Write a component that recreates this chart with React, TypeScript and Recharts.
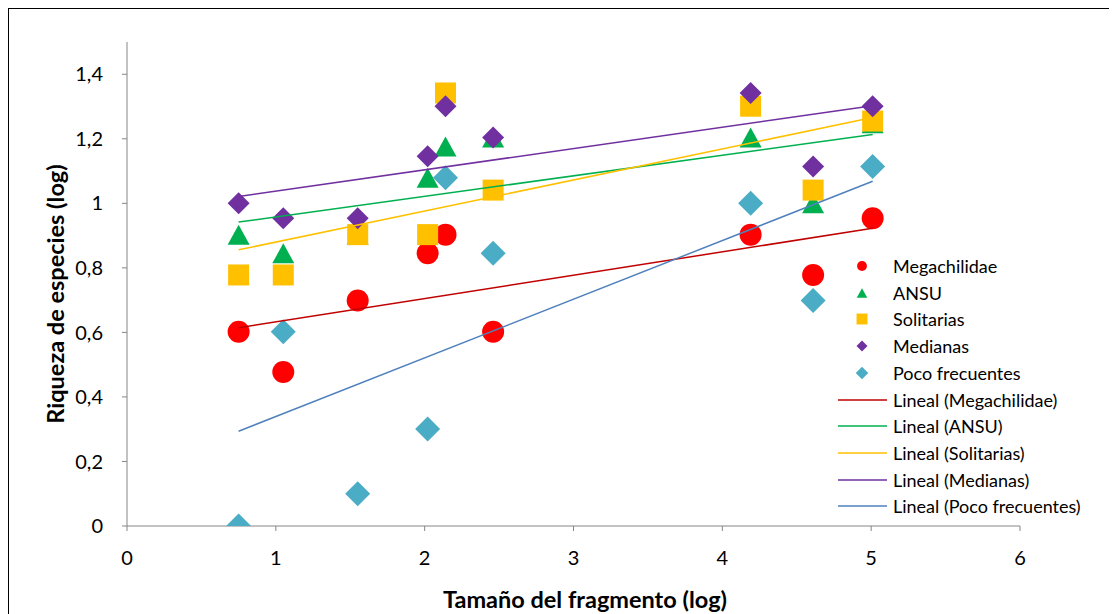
import React from 'react';
import { ScatterChart, Scatter, XAxis, YAxis } from 'recharts';

const xValues = [0.75, 1.05, 1.55, 2.02, 2.14, 2.46, 4.19, 4.61, 5.01];
const megachilidae = [0.602, 0.477, 0.699, 0.845, 0.903, 0.602, 0.903, 0.778, 0.954];
const ansu = [0.903, 0.845, 0.903, 1.079, 1.176, 1.204, 1.204, 1.0, 1.248];
const solitarias = [0.778, 0.778, 0.903, 0.903, 1.342, 1.041, 1.301, 1.041, 1.255];
const medianas = [1.0, 0.954, 0.954, 1.146, 1.301, 1.204, 1.342, 1.114, 1.301];
const pocoFrecuentes = [0.0, 0.602, 0.1, 0.301, 1.079, 0.845, 1.0, 0.699, 1.114];

const xTicks = [0, 1, 2, 3, 4, 5, 6];
const yTicks = [0, 0.2, 0.4, 0.6, 0.8, 1.0, 1.2, 1.4];

const FONT = 'Lato, "Open Sans", sans-serif';

type Series = { name: string; values: number[]; color: string; lineColor: string; marker: string };

const series: Series[] = [
  { name: 'Megachilidae', values: megachilidae, color: '#FF0000', lineColor: '#C00000', marker: 'circle' },
  { name: 'ANSU', values: ansu, color: '#00B050', lineColor: '#00B050', marker: 'triangle' },
  { name: 'Solitarias', values: solitarias, color: '#FFC000', lineColor: '#FFC000', marker: 'square' },
  { name: 'Medianas', values: medianas, color: '#7030A0', lineColor: '#7030A0', marker: 'diamondS' },
  { name: 'Poco frecuentes', values: pocoFrecuentes, color: '#4BACC6', lineColor: '#4F81BD', marker: 'diamondL' },
];

function toPoints(vals: number[]) {
  return xValues.map((x, i) => ({ x, y: vals[i] }));
}

function trend(vals: number[]) {
  const n = xValues.length;
  const mx = xValues.reduce((a, b) => a + b, 0) / n;
  const my = vals.reduce((a, b) => a + b, 0) / n;
  let sxy = 0, sxx = 0;
  for (let i = 0; i < n; i++) {
    sxy += (xValues[i] - mx) * (vals[i] - my);
    sxx += (xValues[i] - mx) ** 2;
  }
  const b = sxy / sxx;
  const a = my - b * mx;
  const x0 = Math.min(...xValues);
  const x1 = Math.max(...xValues);
  return [{ x: x0, y: a + b * x0 }, { x: x1, y: a + b * x1 }];
}

function markerEl(kind: string, cx: number, cy: number, color: string, scale = 1) {
  switch (kind) {
    case 'circle': {
      return <circle cx={cx} cy={cy} r={11 * scale} fill={color} />;
    }
    case 'triangle': {
      const h = 20 * scale, w = 22 * scale;
      return <polygon points={`${cx},${cy - h / 2} ${cx + w / 2},${cy + h / 2} ${cx - w / 2},${cy + h / 2}`} fill={color} />;
    }
    case 'square': {
      const s = 21 * scale;
      return <rect x={cx - s / 2} y={cy - s / 2} width={s} height={s} fill={color} />;
    }
    case 'diamondS': {
      const s = 11 * scale;
      return <polygon points={`${cx},${cy - s} ${cx + s},${cy} ${cx},${cy + s} ${cx - s},${cy}`} fill={color} />;
    }
    default: {
      const s = 12.5 * scale;
      return <polygon points={`${cx},${cy - s} ${cx + s},${cy} ${cx},${cy + s} ${cx - s},${cy}`} fill={color} />;
    }
  }
}

const fmtY = (v: number) => (Number.isInteger(v) ? String(v) : v.toFixed(1).replace('.', ','));

const legendMarkerScale: Record<string, number> = { circle: 0.45, triangle: 0.48, square: 0.52, diamondS: 0.5, diamondL: 0.5 };

export default function App() {
  React.useEffect(() => {
    document.body.style.overflow = 'hidden';
  }, []);
  const axisColor = '#868686';
  return (
    <div style={{ position: 'relative', width: 1109, height: 620, border: '1px solid #000', boxSizing: 'border-box', background: '#fff', fontFamily: FONT }}>
      <div style={{ position: 'absolute', left: -1, top: -1 }}>
        <ScatterChart width={1109} height={606} margin={{ top: 34, right: 97, bottom: 48, left: 39 }}>
          <XAxis
            type="number"
            dataKey="x"
            domain={[0, 6]}
            ticks={xTicks}
            stroke={axisColor}
            tickLine={{ stroke: axisColor }}
            tickSize={5}
            tick={{ fill: '#000', fontSize: 20, fontFamily: FONT }}
            tickMargin={20}
            height={40}
            allowDataOverflow
          />
          <YAxis
            type="number"
            dataKey="y"
            domain={[0, 1.5]}
            ticks={yTicks}
            tickFormatter={fmtY}
            stroke={axisColor}
            tickLine={{ stroke: axisColor }}
            tickSize={5}
            tick={{ fill: '#000', fontSize: 20, fontFamily: FONT }}
            tickMargin={19}
            width={80}
            allowDataOverflow
          />
          {series.map((s) => (
            <Scatter
              key={s.name}
              name={s.name}
              data={toPoints(s.values)}
              isAnimationActive={false}
              shape={(p: any) => markerEl(s.marker, p.cx, p.cy, s.color)}
            />
          ))}
          {series.map((s) => (
            <Scatter
              key={'t' + s.name}
              name={'Lineal (' + s.name + ')'}
              data={trend(s.values)}
              isAnimationActive={false}
              line={{ stroke: s.lineColor, strokeWidth: 1.5 }}
              shape={() => <g />}
            />
          ))}
        </ScatterChart>
      </div>
      {/* Y title */}
      <div style={{ position: 'absolute', left: 46, top: 285, width: 0, height: 0 }}>
        <div style={{ position: 'absolute', transform: 'translate(-50%, -50%) rotate(-90deg)', whiteSpace: 'nowrap', fontWeight: 700, fontSize: 23.5 }}>
          Riqueza de especies (log)
        </div>
      </div>
      {/* X title */}
      <div style={{ position: 'absolute', left: 576, top: 590, width: 0, height: 0 }}>
        <div style={{ position: 'absolute', transform: 'translate(-50%, -50%)', whiteSpace: 'nowrap', fontWeight: 700, fontSize: 23.5 }}>
          Tamaño del fragmento (log)
        </div>
      </div>
      {/* Legend */}
      <div style={{ position: 'absolute', left: 826, top: 244 }}>
        {series.map((s, i) => (
          <div key={s.name} style={{ position: 'absolute', left: 0, top: i * 26.7, height: 26, width: 280, display: 'flex', alignItems: 'center' }}>
            <svg width={56} height={26} style={{ display: 'block' }}>
              {markerEl(s.marker, 27, 13, s.color, legendMarkerScale[s.marker])}
            </svg>
            <span style={{ fontSize: 18, marginLeft: 2, whiteSpace: 'nowrap' }}>{s.name}</span>
          </div>
        ))}
        {series.map((s, i) => (
          <div key={'l' + s.name} style={{ position: 'absolute', left: 0, top: (i + 5) * 26.7, height: 26, width: 280, display: 'flex', alignItems: 'center' }}>
            <svg width={56} height={26} style={{ display: 'block' }}>
              <line x1={3} x2={52} y1={13} y2={13} stroke={s.lineColor} strokeWidth={1.5} />
            </svg>
            <span style={{ fontSize: 18, marginLeft: 2, whiteSpace: 'nowrap' }}>{'Lineal (' + s.name + ')'}</span>
          </div>
        ))}
      </div>
    </div>
  );
}
